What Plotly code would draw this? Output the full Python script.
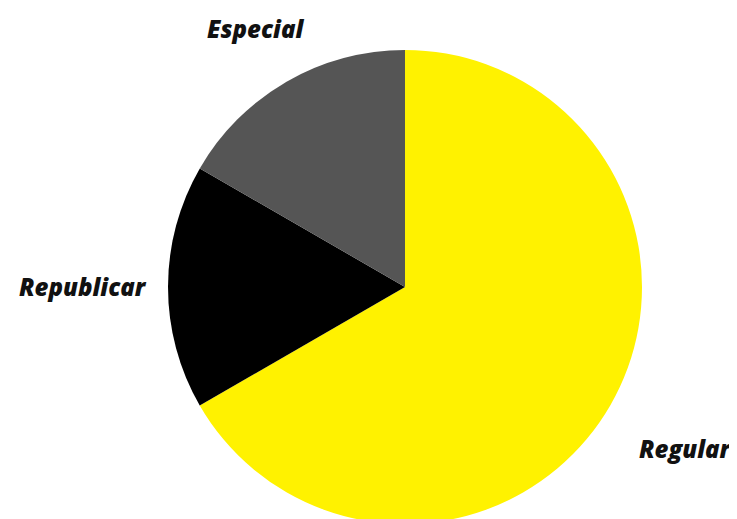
import math
import plotly.graph_objects as go

labels = ["Regular", "Republicar", "Especial"]
values = [66.67, 16.67, 16.66]
colors = ["#FFF200", "#000000", "#555555"]

# label distance from centre, in pie radii (layout only)
label_dist = [1.365, 1.36, 1.26]

W, H = 737, 526
M = dict(l=57, r=0, t=42, b=10)
pw = W - M["l"] - M["r"]
ph = H - M["t"] - M["b"]
R = min(pw, ph) / 2

fig = go.Figure(go.Pie(
    labels=labels,
    values=values,
    sort=False,
    direction="clockwise",
    rotation=0,
    marker=dict(colors=colors, line=dict(width=0)),
    textinfo="none",
    showlegend=False,
    hoverinfo="label+percent",
))

total = sum(values)
cum = 0.0
for lab, v, d in zip(labels, values, label_dist):
    mid = (cum + v / 2) / total * 2 * math.pi
    cum += v
    dx = math.sin(mid) * R * d
    dy = math.cos(mid) * R * d
    fig.add_annotation(
        x=0.5 + dx / pw, y=0.5 + dy / ph, xref="paper", yref="paper",
        text=lab, showarrow=False, xanchor="center", yanchor="middle",
        font=dict(family="Open Sans", size=24, color="#111111", weight=800, style="italic"),
    )

fig.update_layout(
    width=W,
    height=H,
    margin=M,
    paper_bgcolor="white",
    plot_bgcolor="white",
)

fig.write_html("out.html")
